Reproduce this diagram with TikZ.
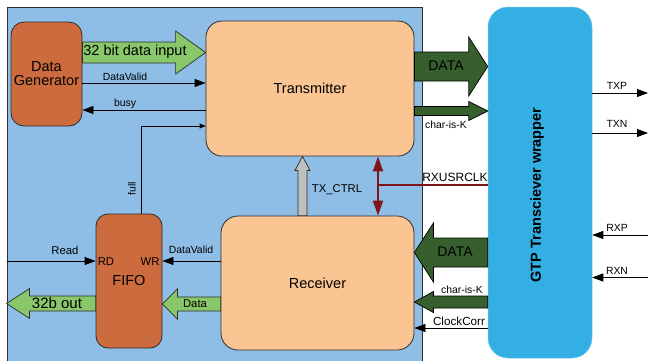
\documentclass[tikz,border=0pt]{standalone}
\usepackage{fontspec}
\setmainfont{Liberation Sans}
\usetikzlibrary{arrows.meta,calc}
\definecolor{panelblue}{RGB}{142,190,230}
\definecolor{rust}{RGB}{204,107,62}
\definecolor{peach}{RGB}{250,197,147}
\definecolor{lgreen}{RGB}{136,199,106}
\definecolor{dgreen}{RGB}{55,95,46}
\definecolor{gtpblue}{RGB}{52,175,228}
\definecolor{dred}{RGB}{127,20,25}
\definecolor{outl}{RGB}{45,45,45}
\definecolor{ctrlgrey}{RGB}{191,191,191}
\tikzset{
  blk/.style={draw=outl, line width=0.8pt, inner sep=0pt, align=center},
  big/.style={font=\fontsize{14.5}{16}\selectfont},
  mid/.style={font=\fontsize{11.3}{13}\selectfont},
  sml/.style={font=\fontsize{10.4}{12}\selectfont},
  lbl/.style={inner sep=0pt},
  sig/.style={draw=black, line width=0.8pt, -{Triangle[length=11pt,width=8pt]}},
  lgarrow/.style={fill=lgreen, draw=outl, line width=0.7pt},
  dgarrow/.style={fill=dgreen, draw=black, line width=0.7pt},
  ctrlarrow/.style={fill=ctrlgrey, draw=outl, line width=0.7pt},
  clk/.style={draw=dred, line width=2pt},
}
\newcommand\hfat[6]{%
  \draw[#1] let \p1=(#2), \p2=(#3) in
    ({\x1},{\y1+#4}) -- ({\x2-(#6)},{\y1+#4}) -- ({\x2-(#6)},{\y1+#5}) -- ({\x2},{\y1})
    -- ({\x2-(#6)},{\y1-#5}) -- ({\x2-(#6)},{\y1-#4}) -- ({\x1},{\y1-#4}) -- cycle;}
\newcommand\vfat[6]{%
  \draw[#1] let \p1=(#2), \p2=(#3) in
    ({\x1+#4},{\y1}) -- ({\x1+#4},{\y2-(#6)}) -- ({\x1+#5},{\y2-(#6)}) -- ({\x1},{\y2})
    -- ({\x1-#5},{\y2-(#6)}) -- ({\x1-#4},{\y2-(#6)}) -- ({\x1-#4},{\y1}) -- cycle;}
\begin{document}
\begin{tikzpicture}[x=1pt,y=-1pt]
\useasboundingbox[fill=white] (0,0) rectangle (649,360);
% level helpers
\coordinate (yDin) at (0,52.5);
\coordinate (yDtx) at (0,66.5);
\coordinate (yKtx) at (0,111);
\coordinate (yDrx) at (0,252.5);
\coordinate (yKrx) at (0,302);
\coordinate (yData) at (0,304);
\coordinate (yOut) at (0,303.5);
\coordinate (yDV) at (0,83);
\coordinate (yBusy) at (0,110);
\coordinate (yFull) at (0,126);
\coordinate (xFull) at (141,0);
\coordinate (yRead) at (0,261);
\coordinate (yCC) at (0,328);
\coordinate (xCtrl) at (302.5,0);
% panel
\node[draw=outl, fill=panelblue, line width=0.9pt, minimum width=415pt, minimum height=355pt, inner sep=0pt] (panel) at (214.5,184.5) {};
% blocks
\node[blk, fill=rust, rounded corners=13pt, minimum width=71pt, minimum height=104pt, big] (dg) at (46.5,74) {Data\\[-2pt]Generator};
\node[blk, fill=peach, rounded corners=16pt, minimum width=208pt, minimum height=135pt, big] (tx) at (310,88.5) {Transmitter};
\node[blk, fill=peach, rounded corners=17pt, minimum width=193pt, minimum height=134pt, big] (rx) at (317.5,283) {Receiver};
\node[blk, fill=rust, rounded corners=12pt, minimum width=66pt, minimum height=134pt] (fifo) at (129,281) {};
\node[lbl, big] (fifotxt) at (129,281) {FIFO};
\node[lbl, mid] (rd) at (106,262) {RD};
\node[lbl, mid] (wr) at (150,262) {WR};
\node[fill=gtpblue, draw=gtpblue!70!white, line width=0.5pt, rounded corners=20pt, minimum width=104pt, minimum height=351pt, inner sep=0pt] (gtp) at (540,182.5) {};
\node[lbl, rotate=90, font=\bfseries\fontsize{14.5}{16}\selectfont] (gtptxt) at (537,195) {GTP Transciever wrapper};
% fat arrows
\hfat{lgarrow}{dg.east |- yDin}{tx.west |- yDin}{10.5pt}{21.5pt}{30pt}
\node[lbl, big] (din) at (135,52) {32 bit data input};
\hfat{dgarrow}{tx.east |- yDtx}{gtp.west |- yDtx}{14.5pt}{29.5pt}{19pt}
\node[lbl, font=\fontsize{14}{16}\selectfont] (datatx) at (446,66) {DATA};
\hfat{dgarrow}{tx.east |- yKtx}{gtp.west |- yKtx}{4.5pt}{9.5pt}{19pt}
\node[lbl, sml] (kt) at (446,125) {char-is-K};
\hfat{dgarrow}{gtp.west |- yDrx}{rx.east |- yDrx}{14.5pt}{29.5pt}{-19pt}
\node[lbl, font=\fontsize{14}{16}\selectfont] (datarx) at (455,252) {DATA};
\hfat{dgarrow}{gtp.west |- yKrx}{rx.east |- yKrx}{6pt}{10.5pt}{-19pt}
\node[lbl, sml] (kr) at (462,290) {char-is-K};
\hfat{lgarrow}{rx.west |- yData}{fifo.east |- yData}{7pt}{15pt}{-15pt}
\node[lbl, mid] (dtxt) at (195,304) {Data};
\hfat{lgarrow}{fifo.west |- yOut}{panel.west |- yOut}{7.5pt}{15pt}{-23pt}
\node[lbl, font=\fontsize{15}{17}\selectfont] (outtxt) at (57,303) {32b out};
\vfat{ctrlarrow}{rx.north -| xCtrl}{tx.south -| xCtrl}{4.5pt}{7.5pt}{14pt}
\node[lbl, mid] (ctrl) at (337,190) {TX\_CTRL};
% thin signals
\draw[sig] (dg.east |- yDV) -- (tx.west |- yDV);
\node[lbl, sml] (dv1) at (125,77) {DataValid};
\draw[sig] (tx.west |- yBusy) -- (dg.east |- yBusy);
\node[lbl, sml] (busy) at (125,104) {busy};
\draw[draw=black, line width=0.8pt, -{Triangle[length=6pt,width=5pt]}] (fifo.north -| xFull) |- (tx.west |- yFull);
\node[lbl, sml, rotate=90] (full) at (132,189) {full};
\draw[sig] (panel.west |- yRead) -- (fifo.west |- yRead);
\node[lbl, mid] (read) at (65,250) {Read};
\draw[sig] (rx.west |- yRead) -- (fifo.east |- yRead);
\node[lbl, sml] (dv2) at (191,250) {DataValid};
\draw[sig] (gtp.west |- yCC) -- (rx.east |- yCC);
\node[lbl, font=\fontsize{11.7}{13}\selectfont] (cc) at (459,321) {ClockCorr};
% clock
\coordinate (clkj) at (378,185);
\draw[clk] (gtp.west |- clkj) -- (clkj);
\draw[clk, {Triangle[length=15pt,width=10pt]}-{Triangle[length=15pt,width=10pt]}] (tx.south -| clkj) -- (rx.north -| clkj);
\node[lbl, font=\fontsize{12}{14}\selectfont] (clktxt) at (455,177.5) {RXUSRCLK};
% serial pins
\coordinate (txp) at (648,93);
\coordinate (txn) at (648,133);
\coordinate (rxp) at (648,235);
\coordinate (rxn) at (648,277.5);
\draw[sig] (gtp.east |- txp) -- (txp);
\draw[sig] (gtp.east |- txn) -- (txn);
\draw[sig] (rxp) -- (gtp.east |- rxp);
\draw[sig] (rxn) -- (gtp.east |- rxn);
\node[lbl, sml] (tpl) at (617,86) {TXP};
\node[lbl, sml] (tnl) at (617,124) {TXN};
\node[lbl, sml] (rpl) at (617,228) {RXP};
\node[lbl, sml] (rnl) at (617,271) {RXN};
\end{tikzpicture}
\end{document}
